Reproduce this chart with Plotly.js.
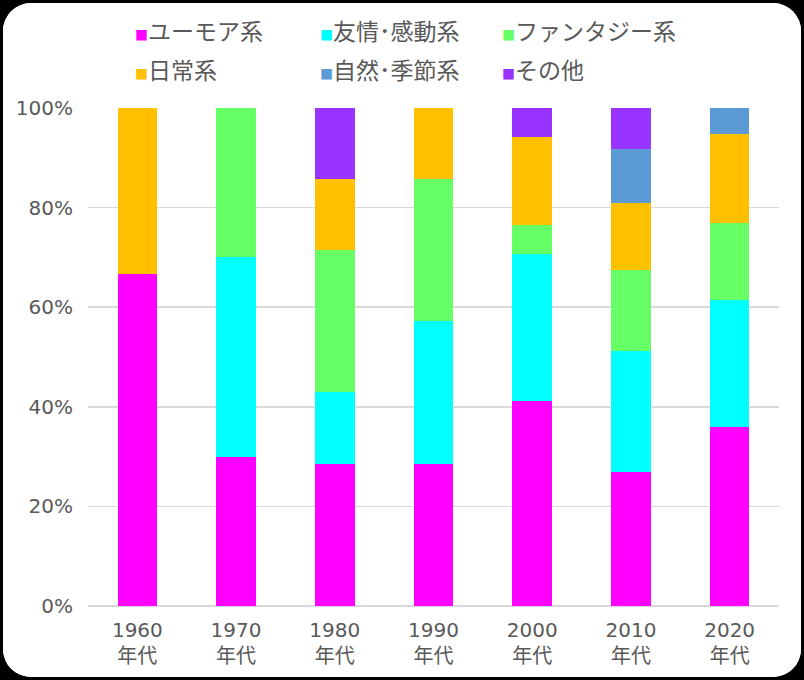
<!DOCTYPE html>
<html>
<head>
<meta charset="utf-8">
<script src="https://cdn.plot.ly/plotly-3.0.1.min.js"></script>
<style>
  html, body { margin: 0; padding: 0; background: #000; }
  #chart { position: absolute; left: 3px; top: 3px; width: 798px; height: 674px;
           border-radius: 28px; overflow: hidden; background: #fff; }
</style>
</head>
<body>
<div id="chart"></div>
<script>
const decades = ['1960<br>年代', '1970<br>年代', '1980<br>年代', '1990<br>年代', '2000<br>年代', '2010<br>年代', '2020<br>年代'];
const seriesNames = ['ユーモア系', '友情･感動系', 'ファンタジー系', '日常系', '自然･季節系', 'その他'];
const seriesColors = ['#FF00FF', '#00FFFF', '#66FF66', '#FFC000', '#5B9BD5', '#9933FF'];

const humor   = [66.7, 30.0, 28.6, 28.6, 41.2, 27.0, 35.9];
const friend  = [0,    40.0, 14.3, 28.6, 29.4, 24.3, 25.6];
const fantasy = [0,    30.0, 28.6, 28.6, 5.9,  16.2, 15.4];
const daily   = [33.3, 0,    14.3, 14.2, 17.6, 13.5, 17.9];
const nature  = [0,    0,    0,    0,    0,    10.8, 5.2];
const other   = [0,    0,    14.3, 0,    5.9,  8.2,  0];

const values = [humor, friend, fantasy, daily, nature, other];
const font = '"Noto Sans CJK JP", "Noto Sans", sans-serif';
const tickFont = '"DejaVu Sans", "Noto Sans CJK JP", sans-serif';
const grey = '#595959';

const data = values.map((v, i) => ({
    x: decades,
    y: v,
    name: seriesNames[i],
    type: 'bar',
    marker: { color: seriesColors[i] },
    hoverinfo: 'none'
}));

// legend drawn as text: 3 columns x 2 rows
const legendX = [0.0651, 0.3329, 0.5962];
const legendY = [1.1566, 1.0783];
const annotations = seriesNames.map((n, i) => ({
    xref: 'paper', yref: 'paper',
    x: legendX[i % 3], y: legendY[Math.floor(i / 3)],
    xanchor: 'left', yanchor: 'middle',
    showarrow: false,
    text: '<span style="color:' + seriesColors[i] + ';font-size:13px">■</span>' + n,
    font: { family: font, size: 23, color: grey }
}));

const layout = {
    width: 798,
    height: 674,
    margin: { l: 85, r: 22, t: 105, b: 71 },
    paper_bgcolor: '#fff',
    plot_bgcolor: '#fff',
    barmode: 'stack',
    bargap: 0.6,
    showlegend: false,
    font: { family: font, color: grey },
    xaxis: {
        tickfont: { family: tickFont, size: 20, color: grey },
        showgrid: false,
        showline: false,
        ticks: '',
        ticklabelstandoff: 10,
        fixedrange: true
    },
    yaxis: {
        range: [0, 100],
        dtick: 20,
        ticksuffix: '%',
        tickfont: { family: tickFont, size: 20, color: grey },
        gridcolor: '#d9d9d9',
        gridwidth: 1.5,
        zeroline: true,
        zerolinecolor: '#d9d9d9',
        zerolinewidth: 1.5,
        showline: false,
        ticks: '',
        ticklabelstandoff: 14,
        fixedrange: true
    },
    annotations: annotations
};

Plotly.newPlot('chart', data, layout, { displayModeBar: false, staticPlot: true });
</script>
</body>
</html>
